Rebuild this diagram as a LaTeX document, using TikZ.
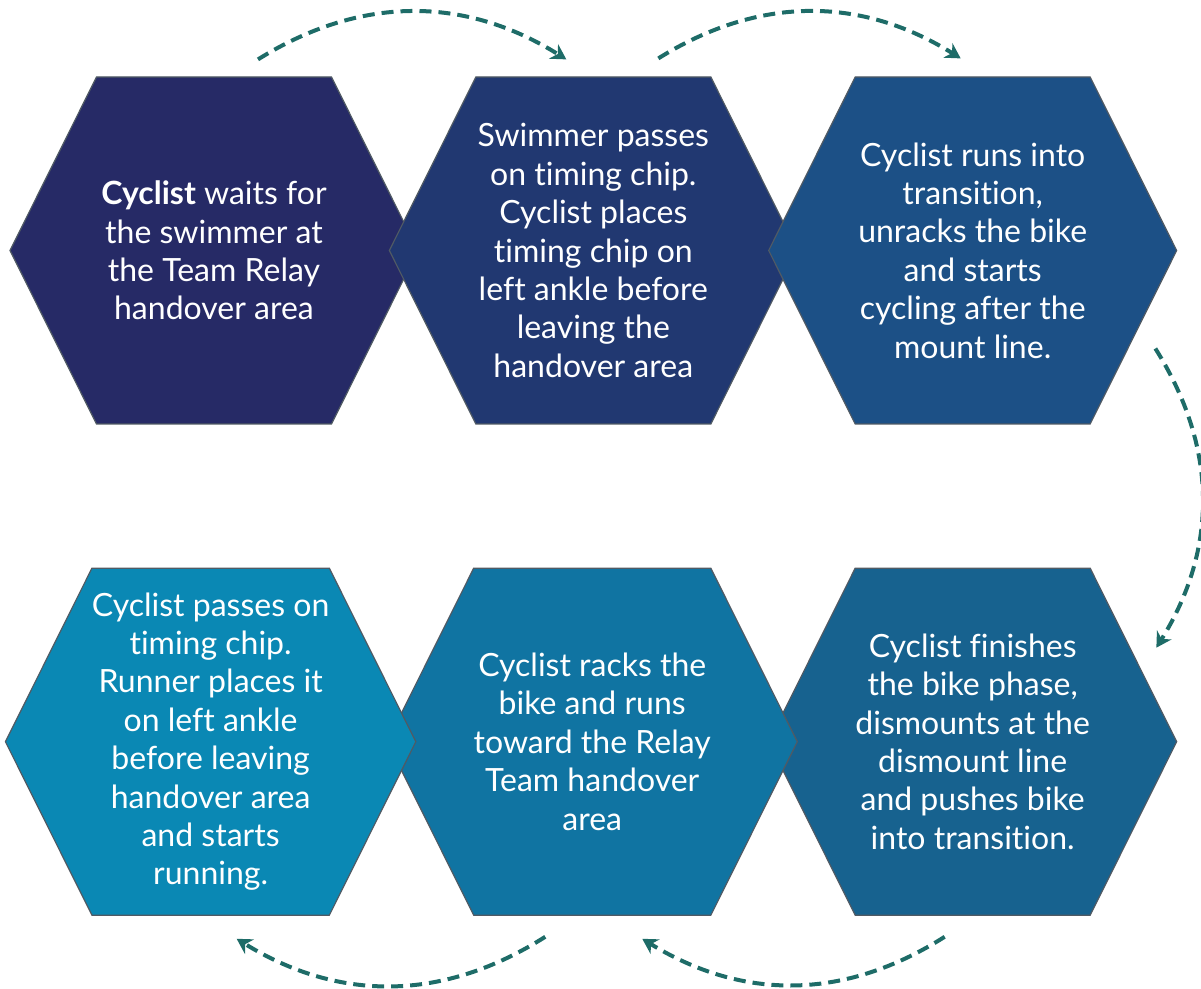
\documentclass[tikz,border=0pt]{standalone}
\usepackage{fontspec}
\setmainfont{Lato}[Ligatures=NoCommon]
\usetikzlibrary{arrows.meta, positioning, shapes.symbols}

\definecolor{stageA}{RGB}{38,42,102}
\definecolor{stageB}{RGB}{33,56,113}
\definecolor{stageC}{RGB}{28,80,134}
\definecolor{stageD}{RGB}{23,98,143}
\definecolor{stageE}{RGB}{16,116,162}
\definecolor{stageF}{RGB}{10,136,180}
\definecolor{edgegrey}{RGB}{80,90,100}
\definecolor{flowteal}{RGB}{30,108,104}

\begin{document}
\begin{tikzpicture}[>=Stealth, node distance=-15pt and -15pt,
  stage/.style={signal, signal to=west and east, signal pointer angle=127, draw=edgegrey, line width=0.6pt, minimum width=204pt, minimum height=173.5pt, inner sep=0pt, text=white, align=center, font=\fontsize{16}{19.2}\selectfont},
  flow/.style={-{Stealth[length=7.5pt,width=8.5pt]}, draw=flowteal, line width=2pt, dash pattern=on 6pt off 3.5pt}]
\useasboundingbox (0,0) rectangle (600.5pt,-494.5pt);
% top row, left to right
\node[stage, fill=stageA] (h1) at (107pt,-125.25pt) {\textbf{Cyclist} waits for\\the swimmer at\\the Team Relay\\handover area};
\node[stage, fill=stageB, right=of h1] (h2) {Swimmer passes\\on timing chip.\\Cyclist places\\timing chip on\\left ankle before\\leaving the\\handover area};
\node[stage, fill=stageC, right=of h2] (h3) {Cyclist runs into\\transition,\\unracks the bike\\and starts\\cycling after the\\mount line.};
% bottom row, right to left
\node[stage, fill=stageD, below=71.5pt of h3] (h6) {Cyclist finishes\\the bike phase,\\dismounts at the\\dismount line\\and pushes bike\\into transition.};
\node[stage, fill=stageE, left=of h6] (h5) {Cyclist racks the\\bike and runs\\toward the Relay\\Team handover\\area};
\node[stage, fill=stageF, left=of h5] (h4) {Cyclist passes on\\timing chip.\\Runner places it\\on left ankle\\before leaving\\handover area\\and starts\\running.};
% dashed arcs between the stages
\draw[flow] ([shift={(22pt,8.5pt)}]h1.north) to[bend left=32] ([shift={(-13.5pt,8.5pt)}]h2.north);
\draw[flow] ([shift={(32.5pt,9pt)}]h2.north) to[bend left=32] ([shift={(-6pt,9pt)}]h3.north);
\draw[flow] ([shift={(-11pt,-49pt)}]h3.east) to[bend left=32] ([shift={(-10.5pt,47pt)}]h6.east);
\draw[flow] ([shift={(-14pt,-10.5pt)}]h6.south) to[bend left=32] ([shift={(25pt,-11.5pt)}]h5.south);
\draw[flow] ([shift={(-23.5pt,-10.5pt)}]h5.south) to[bend left=32] ([shift={(13pt,-11.5pt)}]h4.south);
\end{tikzpicture}
\end{document}
